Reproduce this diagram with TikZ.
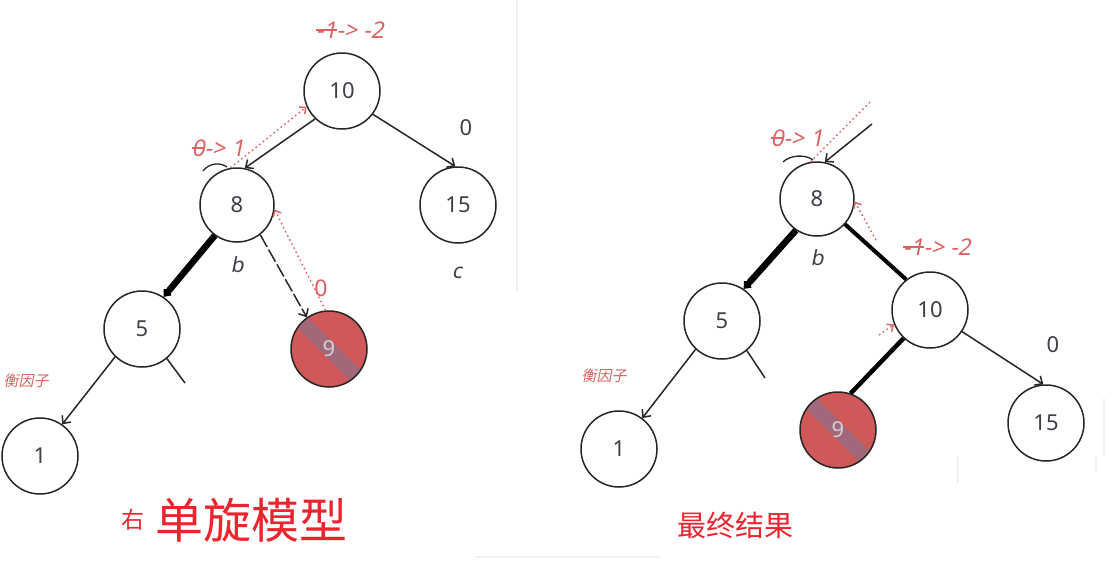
\documentclass[tikz,border=0pt]{standalone}
\usepackage{fontspec}
\setmainfont{Noto Sans}
\newfontfamily\cjk{Noto Sans CJK SC}
\newfontfamily\penfont[FakeSlant=0.2]{Noto Sans}
\newfontfamily\cjkpen[FakeSlant=0.2]{Noto Sans CJK SC}
\usepackage{xcolor}
\usetikzlibrary{arrows.meta, positioning}

\newcommand{\strk}[1]{\setbox0\hbox{#1}\rlap{\rule[0.33em]{\wd0}{1.4pt}}\box0}

\definecolor{penred}{RGB}{222,96,96}
\definecolor{titlered}{RGB}{236,36,46}
\definecolor{delred}{RGB}{208,88,88}
\definecolor{delband}{RGB}{160,104,120}
\definecolor{ink}{RGB}{38,38,38}
\definecolor{numgray}{RGB}{62,62,72}

\begin{document}
\begin{tikzpicture}[
    x=1pt, y=-1pt,
    treenode/.style={circle, draw=ink, line width=1.5pt, fill=white, minimum size=76pt, inner sep=0pt, text=numgray, font=\fontsize{22}{24}\selectfont},
    delnode/.style={treenode, fill=delred, text={rgb,255:red,208;green,208;blue,218},
        path picture={\draw[delband, line width=15pt] (path picture bounding box.north west) -- (path picture bounding box.south east);}},
    arrow/.style={draw=ink, line width=1.5pt, -{Straight Barb[length=6pt,width=11pt]}},
    boldarrow/.style={draw=black, line width=6.5pt, -{Straight Barb[length=3pt,width=5pt]}},
    boldline/.style={draw=black, line width=4pt},
    dasharrow/.style={arrow, dash pattern=on 14pt off 3pt},
    penarrow/.style={draw=penred, line width=1.4pt, dash pattern=on 1.6pt off 3pt, -{Straight Barb[length=5pt,width=9pt]}},
    penlabel/.style={text=penred, font=\penfont\fontsize{23}{26}\selectfont, inner sep=0pt},
    weight/.style={text=numgray, font=\fontsize{22}{24}\selectfont, inner sep=0pt},
    side/.style={text=numgray, font=\penfont\fontsize{21}{24}\selectfont, inner sep=0pt},
    note/.style={text=penred, font=\cjkpen\fontsize{15}{17}\selectfont, inner sep=0pt},
    frame/.style={draw=gray!12, line width=2.5pt}
]
    \useasboundingbox (0,0) rectangle (1120,565);

    % Screenshot edges
    \draw [frame] (517,0) -- (517,292);
    \draw [frame] (1104,398) -- (1104,455);
    \draw [frame] (958,456) -- (958,483);
    \draw [frame] (1096,456) -- (1096,472);
    \draw [frame] (475,557) -- (660,557);

    % Left tree: nodes
    \node (l10) [treenode] at (342,91) {10};
    \node (l8) [treenode, minimum size=74pt] at (237,205) {8};
    \node (l15) [treenode] at (458,205) {15};
    \node (l5) [treenode] at (142,329) {5};
    \node (l1) [treenode] at (40,456) {1};
    \node (l9) [delnode] at (329,349) {9};
    \coordinate (lstub) at (185,383);

    % Left tree: edges
    \draw [arrow] (l10.226) -- (l8.78);
    \draw [arrow] (l10.323) -- (l15.94);
    \draw [boldarrow] (l8.234) -- (l5.56);
    \draw [dasharrow] (l8.308) -- (l9.125);
    \draw [arrow] (l5.226) -- (l1.55);
    \draw [draw=ink, line width=1.5pt] (l5.310) -- (lstub);
    \draw [penarrow] (l8.100) -- (l10.204);
    \draw [penarrow] (l9.95) -- (l8.353);
    \draw [ink, line width=1.3pt] (203,171) .. controls (209,163) and (220,162) .. (227,167);

    % Left tree: labels
    \node (lbf10) [penlabel] at (350,30) {\strk{-1}-> -2};
    \node (lbf8) [penlabel] at (218,148) {\strk{0} -> 1};
    \node (lbf9) [penlabel, font=\fontsize{23}{26}\selectfont] at (321,288) {0};
    \node (lbf15) [weight] at (466,128) {0};
    \node (lb) [side] at (237,265) {b};
    \node (lc) [side] at (457,273) {c};
    \node (lnote) [note] at (26,381) {衡因子};
    \node (ltitle) [text=titlered, font=\cjk\fontsize{48}{50}\selectfont, anchor=west] at (152,520) {单旋模型};
    \node (lright) [text=titlered, font=\cjk\fontsize{23}{26}\selectfont, left=4pt of ltitle.west] {右};

    % Right tree: nodes
    \node (r8) [treenode, minimum size=74pt] at (817,199) {8};
    \node (r5) [treenode] at (722,321) {5};
    \node (r1) [treenode] at (619,449) {1};
    \node (r10) [treenode] at (930,310) {10};
    \node (r15) [treenode] at (1046,423) {15};
    \node (r9) [delnode] at (838,430) {9};
    \coordinate (rin) at (872,124);
    \coordinate (rdot) at (872,100);
    \coordinate (rfrom) at (876,240);
    \coordinate (rtick) at (879,335);
    \coordinate (rstub) at (765,378);

    % Right tree: edges
    \draw [arrow] (rin) -- (r8.78);
    \draw [penarrow, -] (r8.100) -- (rdot);
    \draw [boldarrow] (r8.236) -- (r5.56);
    \draw [boldline] (r8.318) -- (r10.128);
    \draw [boldline, line width=4.5pt] (r10.227) -- (r9.71);
    \draw [arrow] (r10.326) -- (r15.94);
    \draw [arrow] (r5.227) -- (r1.53);
    \draw [draw=ink, line width=1.5pt] (r5.310) -- (rstub);
    \draw [penarrow] (rfrom) -- (r8.356);
    \draw [penarrow] (rtick) -- (r10.202);
    \draw [ink, line width=1.3pt] (783,162) .. controls (790,155) and (805,154) .. (813,160);

    % Right tree: labels
    \node (rbf8) [penlabel] at (797,138) {\strk{0} -> 1};
    \node (rbf10) [penlabel] at (937,247) {\strk{-1}-> -2};
    \node (rbf15) [weight] at (1053,345) {0};
    \node (rb) [side] at (817,258) {b};
    \node (rnote) [note] at (604,376) {衡因子};
    \node (rtitle) [text=titlered, font=\cjk\fontsize{29}{32}\selectfont] at (735,525) {最终结果};

\end{tikzpicture}
\end{document}
